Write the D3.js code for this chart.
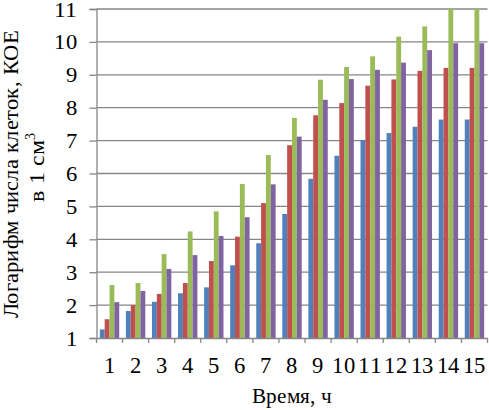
<!DOCTYPE html>
<html><head><meta charset="utf-8">
<script src="https://cdn.jsdelivr.net/npm/d3@7"></script>
<style>@font-face{font-family:"RefSerif";src:local("Liberation Serif"),local("LiberationSerif"),local("Liberation Serif Regular"),local("Tinos"),local("Times New Roman");}</style>
</head><body style="margin:0"><svg id="c" width="489" height="410" style="position:absolute;left:0;top:0"></svg>
<script>
const categories = ["1","2","3","4","5","6","7","8","9","10","11","12","13","14","15"];
const seriesBlue   = [1.26,1.82,2.10,2.36,2.54,3.21,3.88,4.77,5.84,6.54,7.02,7.23,7.42,7.64,7.64];
const seriesRed    = [1.57,2.00,2.34,2.67,3.34,4.08,5.10,6.86,7.77,8.14,8.67,8.86,9.12,9.21,9.21];
const seriesGreen  = [2.61,2.67,3.55,4.24,4.85,5.68,6.56,7.69,8.85,9.24,9.56,10.16,10.47,11.0,11.0];
const seriesPurple = [2.09,2.43,3.10,3.52,4.10,4.67,5.67,7.12,8.24,8.87,9.15,9.37,9.75,9.96,9.96];
const yTicks = [1,2,3,4,5,6,7,8,9,10,11];
const seriesList = [seriesBlue, seriesRed, seriesGreen, seriesPurple];
const colors = ["#4F81BD","#C0504D","#9BBB59","#8064A2"];

const FONT = "RefSerif, 'Liberation Serif', Tinos, serif";
const svg = d3.select("#c");
const L = 96.5, R = 487.5, T = 9, B = 338;
const x = d3.scaleBand().domain(categories).range([L, R]).paddingInner(0).paddingOuter(0);
const y = d3.scaleLinear().domain([1, 11]).range([B, T]);
const inner = d3.scaleBand().domain(d3.range(4)).range([0, x.bandwidth()]).paddingOuter(0.69).paddingInner(0);

svg.append("g").selectAll("line").data(yTicks.filter(d => d > 1)).join("line")
  .attr("x1", L).attr("x2", R).attr("y1", d => y(d)).attr("y2", d => y(d))
  .attr("stroke", "#868686").attr("stroke-width", 1.3);

svg.append("defs").append("clipPath").attr("id", "clip")
  .append("rect").attr("x", L).attr("y", T).attr("width", R - L).attr("height", B - T);

const bars = svg.append("g").attr("clip-path", "url(#clip)");
seriesList.forEach((s, si) => {
  bars.append("g").selectAll("rect").data(s).join("rect")
    .attr("x", (d, i) => x(categories[i]) + inner(si))
    .attr("width", inner.bandwidth())
    .attr("y", d => y(d))
    .attr("height", d => B - y(d))
    .attr("fill", colors[si]);
});

const yAxis = d3.axisLeft(y).tickValues(yTicks).tickSize(7).tickFormat(d3.format("d"));
const gy = svg.append("g").attr("transform", `translate(${L},0)`).call(yAxis);
gy.attr("font-family", null).attr("font-size", null);
gy.select(".domain").attr("stroke", "#868686").attr("stroke-width", 1.3);
gy.selectAll(".tick line").attr("stroke", "#868686").attr("stroke-width", 1.3);
gy.selectAll(".tick text").attr("x", -19.5).attr("fill", "#000")
  .style("font-family", FONT).style("font-size", "22px")
  .attr("textLength", d => String(d).length * 11.3).attr("lengthAdjust", "spacingAndGlyphs");

const xAxis = d3.axisBottom(x).tickSize(0).tickSizeOuter(0);
const gx = svg.append("g").attr("transform", `translate(0,${B})`).call(xAxis);
gx.attr("font-family", null).attr("font-size", null);
gx.select(".domain").attr("stroke", "#868686").attr("stroke-width", 1.3);
gx.selectAll(".tick text").attr("y", 19).attr("fill", "#000")
  .style("font-family", FONT).style("font-size", "23px")
  .attr("textLength", d => d.length * 11.8).attr("lengthAdjust", "spacingAndGlyphs");
gx.append("g").selectAll("line").data(d3.range(categories.length + 1)).join("line")
  .attr("x1", i => L + i * x.bandwidth()).attr("x2", i => L + i * x.bandwidth())
  .attr("y1", 0).attr("y2", 5).attr("stroke", "#868686").attr("stroke-width", 1.3);

svg.append("text").attr("x", 292).attr("y", 403).attr("text-anchor", "middle")
  .style("font-family", FONT).style("font-size", "22px")
  .attr("textLength", 80).attr("lengthAdjust", "spacingAndGlyphs").text("Время, ч");

svg.append("text").attr("transform", "rotate(-90)").attr("text-anchor", "middle")
  .attr("x", -174.5).attr("y", 18)
  .style("font-family", FONT).style("font-size", "22px")
  .attr("textLength", 287).attr("lengthAdjust", "spacingAndGlyphs")
  .text("Логарифм числа клеток, КОЕ");
const t2 = svg.append("text").attr("transform", "rotate(-90)").attr("text-anchor", "middle")
  .attr("x", -167).attr("y", 44)
  .style("font-family", FONT).style("font-size", "22px");
t2.append("tspan").attr("textLength", 62).attr("lengthAdjust", "spacingAndGlyphs").text("в 1 см");
t2.append("tspan").attr("dy", -9).style("font-size", "14px").text("3");
</script></body></html>
